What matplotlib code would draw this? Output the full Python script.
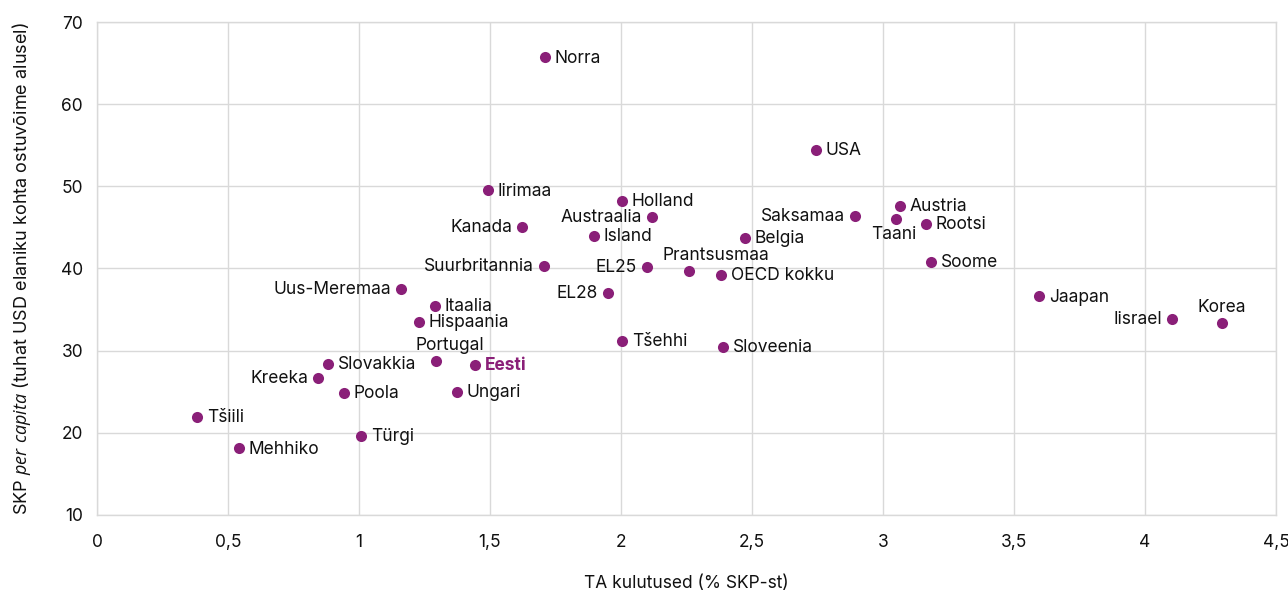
import matplotlib
matplotlib.use('Agg')
import matplotlib.pyplot as plt
from matplotlib.ticker import FuncFormatter, MultipleLocator

plt.rcParams['font.family'] = ['Inter', 'DejaVu Sans']
plt.rcParams['mathtext.fontset'] = 'custom'
plt.rcParams['mathtext.it'] = 'Open Sans:italic'
plt.rcParams['mathtext.rm'] = 'Inter'

# data
countries = ['Norra', 'USA', 'Iirimaa', 'Holland', 'Austraalia', 'Kanada', 'Island',
             'Belgia', 'Suurbritannia', 'EL25', 'Prantsusmaa', 'OECD kokku', 'EL28',
             'Saksamaa', 'Austria', 'Taani', 'Rootsi', 'Soome', 'Jaapan', 'Iisrael',
             'Korea', 'Uus-Meremaa', 'Itaalia', 'Hispaania', 'Portugal', 'Eesti',
             'Ungari', 'Tšehhi', 'Sloveenia', 'Slovakkia', 'Kreeka', 'Poola',
             'Tšiili', 'Mehhiko', 'Türgi']
rd_spend = [1.71, 2.744, 1.492, 2.004, 2.118, 1.622, 1.897,
            2.473, 1.706, 2.099, 2.26, 2.382, 1.95,
            2.893, 3.065, 3.05, 3.164, 3.183, 3.595, 4.103,
            4.294, 1.16, 1.29, 1.229, 1.294, 1.443,
            1.374, 2.004, 2.389, 0.882, 0.844, 0.943,
            0.382, 0.542, 1.008]
gdp_pc = [65.7, 54.4, 49.5, 48.2, 46.3, 45.1, 44.0,
          43.7, 40.3, 40.2, 39.7, 39.2, 37.0,
          46.4, 47.6, 46.0, 45.4, 40.8, 36.6, 33.9,
          33.4, 37.5, 35.4, 33.5, 28.8, 28.3,
          25.0, 31.2, 30.5, 28.4, 26.7, 24.9,
          21.9, 18.1, 19.6]

# where the label sits relative to its point (side, horizontal shift in points)
label_side = {'Kanada': ('l', 0), 'Austraalia': ('l', 0), 'Suurbritannia': ('l', 0),
              'EL25': ('l', 0), 'EL28': ('l', 0), 'Saksamaa': ('l', 0),
              'Uus-Meremaa': ('l', 0), 'Kreeka': ('l', 0), 'Iisrael': ('l', 0),
              'Portugal': ('t', 10), 'Prantsusmaa': ('t', 19), 'Korea': ('t', 0),
              'Taani': ('b', -2)}

PURPLE = '#8a1f78'
GRID = '#d9d9d9'
FS = 12.5


def main():
    fig = plt.figure(figsize=(12.88, 5.96), dpi=100)
    ax = fig.add_axes([0.0753, 0.136, 0.9154, 0.827])

    ax.scatter(rd_spend, gdp_pc, s=64, color=PURPLE, zorder=3, linewidths=0)

    for name, x, y in zip(countries, rd_spend, gdp_pc):
        side, dx = label_side.get(name, ('r', 0))
        kw = dict(fontsize=FS, color='#111111')
        if name == 'Eesti':
            kw.update(color=PURPLE, fontweight='bold')
        if side == 'r':
            ax.annotate(name, (x, y), xytext=(7, -0.5), textcoords='offset points',
                        ha='left', va='center', **kw)
        elif side == 'l':
            ax.annotate(name, (x, y), xytext=(-7, -0.5), textcoords='offset points',
                        ha='right', va='center', **kw)
        elif side == 't':
            ax.annotate(name, (x, y), xytext=(dx, 5), textcoords='offset points',
                        ha='center', va='bottom', **kw)
        else:
            ax.annotate(name, (x, y), xytext=(dx, -5), textcoords='offset points',
                        ha='center', va='top', **kw)

    ax.set_xlim(0, 4.5)
    ax.set_ylim(10, 70)
    ax.xaxis.set_major_locator(MultipleLocator(0.5))
    ax.yaxis.set_major_locator(MultipleLocator(10))
    comma = FuncFormatter(lambda v, p: ('%g' % v).replace('.', ','))
    ax.xaxis.set_major_formatter(comma)
    ax.yaxis.set_major_formatter(comma)
    ax.tick_params(length=0, labelsize=FS, colors='#111111')
    ax.tick_params(axis='x', pad=14)
    ax.tick_params(axis='y', pad=10)

    ax.grid(True, color=GRID, linewidth=1)
    ax.set_axisbelow(True)
    for sp in ax.spines.values():
        sp.set_color(GRID)
        sp.set_linewidth(1)

    ax.set_xlabel('TA kulutused (% SKP-st)', fontsize=FS, labelpad=17, color='#111111')
    ax.set_ylabel(r'SKP $per\ capita$ (tuhat USD elaniku kohta ostuvõime alusel)',
                  fontsize=13, labelpad=20, color='#111111')

    fig.savefig('out.png', dpi=100)


if __name__ == '__main__':
    main()
